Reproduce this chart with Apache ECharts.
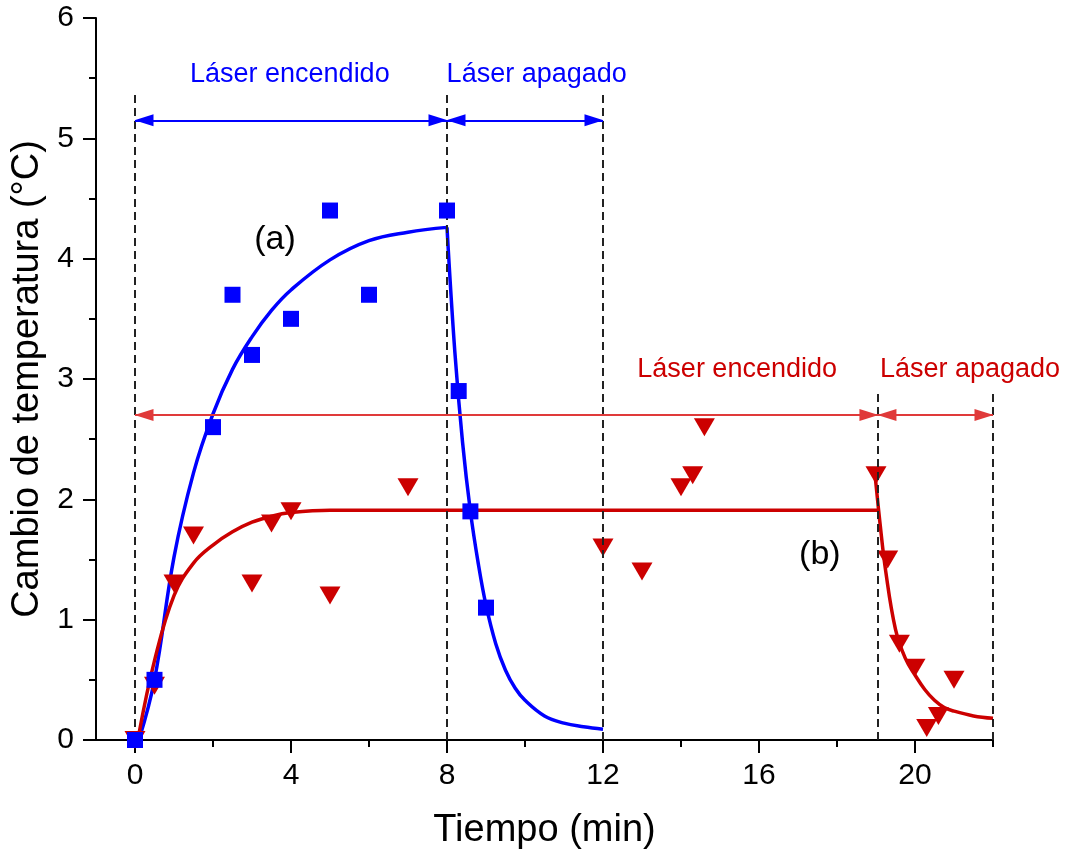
<!DOCTYPE html>
<html>
<head>
<meta charset="utf-8">
<script src="https://cdn.jsdelivr.net/npm/echarts@6.0.0/dist/echarts.min.js"></script>
<style>
  html, body { margin: 0; padding: 0; background: #fff; }
  #main { width: 1067px; height: 857px; }
</style>
</head>
<body>
<div id="main"></div>
<script>
// measured points, curve (a) = blue squares, curve (b) = red triangles
const blueX = [0, 0.5, 2, 2.5, 3, 4, 5, 6, 8, 8.3, 8.6, 9];
const blueY = [0, 0.5, 2.6, 3.7, 3.2, 3.5, 4.4, 3.7, 4.4, 2.9, 1.9, 1.1];
const redX = [0, 0.5, 1, 1.5, 3, 3.5, 4, 5, 7, 12, 13, 14, 14.3, 14.6, 19, 19.3, 19.6, 20, 20.3, 20.6, 21];
const redY = [0, 0.45, 1.3, 1.7, 1.3, 1.8, 1.9, 1.2, 2.1, 1.6, 1.4, 2.1, 2.2, 2.6, 2.2, 1.5, 0.8, 0.6, 0.1, 0.2, 0.5];

// fitted curves
const blueRiseX = [0.1, 0.5, 1.0, 1.5, 2.0, 2.5, 3.0, 3.5, 4.0, 5.0, 6.0, 7.0, 8.0];
const blueRiseY = [0, 0.5, 1.52, 2.22, 2.71, 3.08, 3.35, 3.57, 3.74, 3.99, 4.15, 4.22, 4.26];
const blueDecayX = [8.0, 8.2, 8.4, 8.6, 8.8, 9.0, 9.25, 9.5, 9.75, 10.0, 10.5, 11.0, 11.5, 12.0];
const blueDecayY = [4.26, 3.23, 2.47, 1.9, 1.47, 1.12, 0.8, 0.58, 0.43, 0.33, 0.2, 0.14, 0.11, 0.09];
const redRiseX = [0.1, 0.5, 1.0, 1.5, 2.0, 2.5, 3.0, 3.5, 4.0, 5.0, 6.0, 19.05];
const redRiseY = [0.05, 0.66, 1.2, 1.47, 1.62, 1.73, 1.81, 1.86, 1.89, 1.91, 1.91, 1.91];
const redDecayX = [18.97, 19.1, 19.25, 19.5, 19.75, 20.0, 20.25, 20.5, 20.75, 21.0, 21.5, 22.0];
const redDecayY = [2.22, 1.81, 1.4, 0.92, 0.68, 0.54, 0.42, 0.33, 0.27, 0.24, 0.2, 0.18];

// axis ticks
const xTicks = [0, 4, 8, 12, 16, 20];
const xMinorTicks = [2, 6, 10, 14, 18, 22];

// laser on / off periods
const blueBounds = [0, 8, 12];
const redBounds = [0, 19.05, 22];
const blueArrowY = 5.15;
const redArrowY = 2.7;
const blueGuideTop = 5.4;
const redGuideTop = 2.9;

// annotations
const blueNotes = ['Láser encendido', 'Láser apagado'];
const blueNoteX = [3.97, 10.3];
const blueNoteY = [5.53, 5.53];
const redNotes = ['Láser encendido', 'Láser apagado'];
const redNoteX = [15.44, 21.41];
const redNoteY = [3.08, 3.08];
const curveNotes = ['(a)', '(b)'];
const curveNoteX = [3.59, 17.56];
const curveNoteY = [4.16, 1.54];

const BLUE = '#0000ff';
const RED = '#cc0000';
const RED_ARROW = '#e03a3a';
const SANS = '"Liberation Sans", Arial, sans-serif';

const zip = (xs, ys) => xs.map((x, i) => [x, ys[i]]);

const guides = (bounds, top) => bounds.map(x => [{ coord: [x, 0] }, { coord: [x, top] }]);
const arrows = (bounds, y) => bounds.slice(1).map((x, i) => [{ coord: [bounds[i], y] }, { coord: [x, y] }]);
const notes = (texts, xs, ys) => texts.map((t, i) => ({ name: t, value: [xs[i], ys[i]] }));

const fitLine = (data, color) => ({
  type: 'line',
  data: data,
  smooth: 0.4,
  showSymbol: false,
  symbol: 'none',
  lineStyle: { color: color, width: 3.5 },
  z: 2,
  silent: true
});

const noteSeries = (data, color, size) => ({
  type: 'scatter',
  data: data,
  symbolSize: 0,
  silent: true,
  z: 6,
  itemStyle: { opacity: 1 },
  label: {
    show: true,
    position: 'inside',
    formatter: '{b}',
    color: color,
    fontSize: size,
    fontFamily: SANS
  }
});

// double headed arrows, tips sit on the period bounds
const arrowSeries = (data, color) => ({
  type: 'line',
  data: [],
  z: 3,
  silent: true,
  markLine: {
    silent: true,
    symbol: ['triangle', 'triangle'],
    symbolSize: [12, 19],
    symbolOffset: [[0, 9], [0, 9]],
    label: { show: false },
    itemStyle: { color: color },
    lineStyle: { color: color, width: 1.8, type: 'solid' },
    data: data
  }
});

const chart = echarts.init(document.getElementById('main'), null, { renderer: 'canvas' });

chart.setOption({
  animation: false,
  backgroundColor: '#fff',
  grid: { left: 96, right: 74, top: 18, bottom: 117, containLabel: false, outerBoundsMode: 'none' },
  xAxis: [{
    type: 'value',
    min: -1,
    max: 22,
    name: 'Tiempo (min)',
    nameLocation: 'middle',
    nameGap: 72,
    nameTextStyle: { fontSize: 38, color: '#000', fontFamily: SANS },
    axisLine: { onZero: false, lineStyle: { color: '#000', width: 2 } },
    axisTick: { customValues: xTicks, length: 13, lineStyle: { color: '#000', width: 2 } },
    axisLabel: { customValues: xTicks, fontSize: 30, color: '#000', margin: 21, fontFamily: SANS },
    splitLine: { show: false }
  }, {
    type: 'value',
    min: -1,
    max: 22,
    position: 'bottom',
    axisLine: { show: false, onZero: false },
    axisTick: { customValues: xMinorTicks, length: 7, lineStyle: { color: '#000', width: 2 } },
    axisLabel: { show: false },
    splitLine: { show: false }
  }],
  yAxis: {
    type: 'value',
    min: 0,
    max: 6,
    interval: 1,
    name: 'Cambio de temperatura (°C)',
    nameLocation: 'middle',
    nameGap: 46,
    nameTextStyle: { fontSize: 38, color: '#000', fontFamily: SANS },
    axisLine: { show: true, onZero: false, lineStyle: { color: '#000', width: 2 } },
    axisTick: { show: true, length: 13, lineStyle: { color: '#000', width: 2 } },
    minorTick: { show: true, splitNumber: 2, length: 7, lineStyle: { color: '#000', width: 2 } },
    axisLabel: { fontSize: 30, color: '#000', margin: 22, fontFamily: SANS },
    splitLine: { show: false }
  },
  series: [
    {
      // dashed guides
      type: 'line',
      data: [],
      z: 1,
      silent: true,
      markLine: {
        silent: true,
        symbol: 'none',
        label: { show: false },
        lineStyle: { color: '#222', width: 2, type: [8, 5] },
        data: guides(blueBounds, blueGuideTop).concat(guides(redBounds.slice(1), redGuideTop))
      }
    },
    arrowSeries(arrows(blueBounds, blueArrowY), BLUE),
    arrowSeries(arrows(redBounds, redArrowY), RED_ARROW),
    fitLine(zip(blueRiseX, blueRiseY), BLUE),
    fitLine(zip(blueDecayX, blueDecayY), BLUE),
    fitLine(zip(redRiseX, redRiseY), RED),
    fitLine(zip(redDecayX, redDecayY), RED),
    {
      type: 'scatter',
      data: zip(redX, redY),
      symbol: 'triangle',
      symbolRotate: 180,
      symbolSize: [21, 18],
      itemStyle: { color: RED, opacity: 1 },
      z: 4,
      silent: true
    },
    {
      type: 'scatter',
      data: zip(blueX, blueY),
      symbol: 'rect',
      symbolSize: 16,
      itemStyle: { color: BLUE, opacity: 1 },
      z: 5,
      silent: true
    },
    noteSeries(notes(blueNotes, blueNoteX, blueNoteY), BLUE, 27),
    noteSeries(notes(redNotes, redNoteX, redNoteY), RED, 27),
    noteSeries(notes(curveNotes, curveNoteX, curveNoteY), '#000', 34)
  ]
});
</script>
</body>
</html>
